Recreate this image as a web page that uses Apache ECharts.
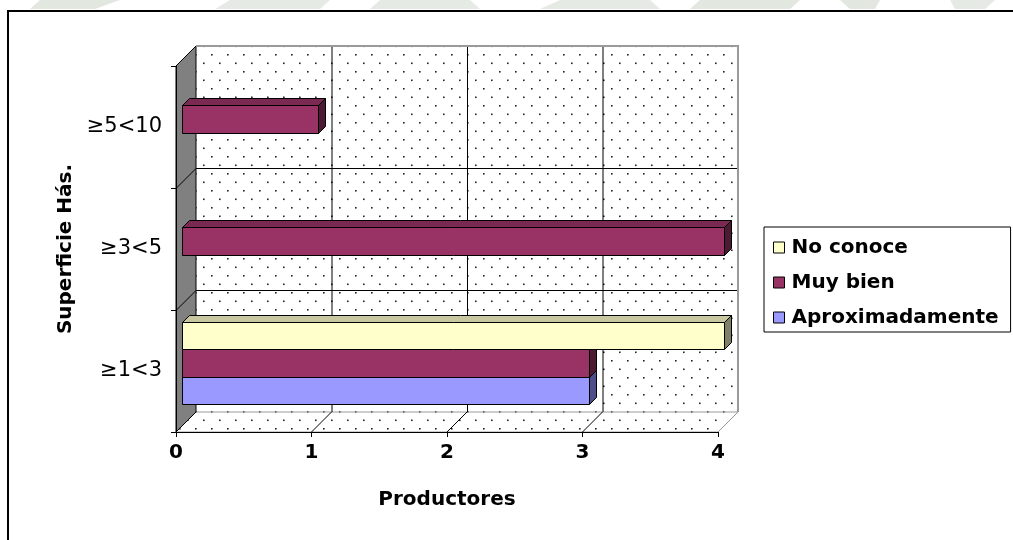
<!DOCTYPE html>
<html>
<head>
<meta charset="utf-8">
<script src="https://cdn.jsdelivr.net/npm/echarts@6/dist/echarts.min.js"></script>
<style>
  html, body { margin: 0; padding: 0; background: #fff; }
  #chart { width: 1013px; height: 540px; }
</style>
</head>
<body>
<div id="chart"></div>
<script>
// Category axis (bottom to top) and series values
const categories = ['≥1<3', '≥3<5', '≥5<10'];
const aproximadamente = [3, null, null];
const muyBien = [3, 4, 1];
const noConoce = [4, null, null];
const xTicks = [0, 1, 2, 3, 4];
const legendOrder = ['No conoce', 'Muy bien', 'Aproximadamente'];

const FONT = '"DejaVu Sans", Verdana, sans-serif';

// Oblique 3D look: walls recede up/right by DEPTH px
const DEPTH = 20;
const BAR_NEAR_X = 6;     // bar front face offset from the front plane
const BAR_SHIFT_Y = 8;
const BAR_DEPTH = 7;      // thickness of each bar
const SLOT_RATIO = 0.223; // bar height as a share of the category band

const palettes = {
  'Aproximadamente': { front: '#9999ff', top: '#7a7acc', side: '#4d4d88' },
  'Muy bien':        { front: '#993366', top: '#7a2952', side: '#4d1a33' },
  'No conoce':       { front: '#ffffcc', top: '#c8c8a0', side: '#808066' }
};

// Dotted fill used on the back wall and floor
function dotPattern() {
  const c = document.createElement('canvas');
  c.width = 16; c.height = 17;
  const g = c.getContext('2d');
  g.fillStyle = '#ffffff';
  g.fillRect(0, 0, 16, 17);
  g.fillStyle = '#222222';
  g.fillRect(3, 3, 1.6, 1.6);
  g.fillRect(11, 11.5, 1.6, 1.6);
  return c;
}
const dots = { image: dotPattern(), repeat: 'repeat' };

function toData(values) {
  const out = [];
  values.forEach((v, i) => { if (v != null) out.push([v, i]); });
  return out;
}

// Back wall, side wall, floor and their gridlines
function renderWalls(params, api) {
  const cs = params.coordSys;
  const L = cs.x, T = cs.y, R = cs.x + cs.width, B = cs.y + cs.height;
  const D = DEPTH;
  const band = api.size([0, 1])[1];
  const kids = [];
  kids.push({ type: 'rect', shape: { x: L + D, y: T - D, width: R - L, height: B - T },
              style: { fill: dots, stroke: null } });
  kids.push({ type: 'polygon', shape: { points: [[L, B], [R, B], [R + D, B - D], [L + D, B - D]] },
              style: { fill: dots, stroke: '#9a9a9a', lineWidth: 1 } });
  kids.push({ type: 'polygon', shape: { points: [[L, T], [L + D, T - D], [L + D, B - D], [L, B]] },
              style: { fill: '#808080', stroke: '#000', lineWidth: 1 } });
  // vertical gridlines on the back wall and slanted ones on the floor
  xTicks.forEach(v => {
    const x = api.coord([v, 0])[0];
    if (v > xTicks[0] && v < xTicks[xTicks.length - 1]) {
      kids.push({ type: 'line', shape: { x1: x + D + 0.5, y1: T - D, x2: x + D + 0.5, y2: B - D },
                  style: { stroke: '#000', lineWidth: 1 } });
      kids.push({ type: 'line', shape: { x1: x, y1: B, x2: x + D, y2: B - D },
                  style: { stroke: '#000', lineWidth: 1 } });
    }
  });
  // category boundaries across the back wall and side wall
  for (let c = 0; c < categories.length - 1; c++) {
    const y = Math.round(api.coord([0, c])[1] - band / 2) + 0.5;
    kids.push({ type: 'line', shape: { x1: L + D, y1: y - D, x2: R + D, y2: y - D },
                style: { stroke: '#000', lineWidth: 1 } });
    kids.push({ type: 'line', shape: { x1: L, y1: y, x2: L + D, y2: y - D },
                style: { stroke: '#000', lineWidth: 1 } });
  }
  // back wall outer edges
  kids.push({ type: 'polyline', shape: { points: [[L + D, T - D], [R + D, T - D], [R + D, B - D]] },
              style: { stroke: '#9a9a9a', lineWidth: 2, fill: null } });
  return { type: 'group', children: kids };
}

function barRenderer(slot, pal) {
  return function (params, api) {
    const v = api.value(0);
    const c = api.value(1);
    const p0 = api.coord([0, c]);
    const p1 = api.coord([v, c]);
    const h = api.size([0, 1])[1] * SLOT_RATIO;
    const cy = p0[1] + (1 - slot) * h - BAR_SHIFT_Y;
    const x0 = Math.round(p0[0] + BAR_NEAR_X) + 0.5;
    const x1 = Math.round(p1[0] + BAR_NEAR_X) + 0.5;
    const y0 = Math.round(cy - h / 2) + 0.5;
    const y1 = Math.round(cy + h / 2) + 0.5;
    const d = BAR_DEPTH;
    return {
      type: 'group',
      children: [
        { type: 'polygon', shape: { points: [[x0, y0], [x1, y0], [x1 + d, y0 - d], [x0 + d, y0 - d]] },
          style: { fill: pal.top, stroke: '#000', lineWidth: 1 } },
        { type: 'polygon', shape: { points: [[x1, y0], [x1 + d, y0 - d], [x1 + d, y1 - d], [x1, y1]] },
          style: { fill: pal.side, stroke: '#000', lineWidth: 1 } },
        { type: 'rect', shape: { x: x0, y: y0, width: x1 - x0, height: y1 - y0 },
          style: { fill: pal.front, stroke: '#000', lineWidth: 1 } }
      ]
    };
  };
}

function barSeries(name, values, slot) {
  const pal = palettes[name];
  return {
    name: name, type: 'custom', z: 3,
    coordinateSystem: 'cartesian2d',
    itemStyle: { color: pal.front },
    encode: { x: 0, y: 1 },
    data: toData(values),
    renderItem: barRenderer(slot, pal),
    silent: true
  };
}

const chart = echarts.init(document.getElementById('chart'), null, { renderer: 'canvas' });

chart.setOption({
  animation: false,
  backgroundColor: '#ffffff',
  graphic: [
    // faint banner shapes above the frame
    { type: 'polygon', z: -10, shape: { points: [[40, 0], [120, 0], [95, 9], [30, 9]] }, style: { fill: '#e2e7df' } },
    { type: 'polygon', z: -10, shape: { points: [[230, 0], [330, 0], [320, 9], [215, 9]] }, style: { fill: '#e6eae4' } },
    { type: 'polygon', z: -10, shape: { points: [[380, 0], [470, 0], [480, 9], [370, 9]] }, style: { fill: '#e6eae4' } },
    { type: 'polygon', z: -10, shape: { points: [[560, 0], [650, 0], [660, 9], [540, 9]] }, style: { fill: '#e6eae4' } },
    { type: 'polygon', z: -10, shape: { points: [[700, 0], [800, 0], [790, 9], [690, 9]] }, style: { fill: '#e2e7df' } },
    { type: 'polygon', z: -10, shape: { points: [[840, 0], [880, 0], [875, 9], [850, 9]] }, style: { fill: '#e2e7df' } },
    { type: 'polygon', z: -10, shape: { points: [[950, 0], [995, 0], [985, 9], [955, 9]] }, style: { fill: '#e6eae4' } },
    // chart frame
    { type: 'rect', z: 20, shape: { x: 8, y: 11, width: 1100, height: 600 },
      style: { fill: null, stroke: '#000', lineWidth: 2 } }
  ],
  grid: { left: 176, top: 66, width: 542, height: 366, containLabel: false },
  xAxis: {
    type: 'value', min: 0, max: 4, interval: 1, z: 5,
    name: 'Productores', nameLocation: 'middle', nameGap: 58,
    nameTextStyle: { fontFamily: FONT, fontWeight: 'bold', fontSize: 20, color: '#000' },
    axisLine: { show: true, lineStyle: { color: '#000', width: 1 } },
    axisTick: { show: true, length: 5, lineStyle: { color: '#000' } },
    axisLabel: { fontFamily: FONT, fontWeight: 'bold', fontSize: 20, color: '#000', margin: 11 },
    splitLine: { show: false }
  },
  yAxis: {
    type: 'category', data: categories, z: 5,
    name: 'Superficie Hás.', nameLocation: 'middle', nameGap: 98,
    nameTextStyle: { fontFamily: FONT, fontWeight: 'bold', fontSize: 20, color: '#000' },
    axisLine: { show: true, lineStyle: { color: '#000', width: 1 } },
    axisTick: { show: true, length: 5, lineStyle: { color: '#000' } },
    axisLabel: { fontFamily: FONT, fontSize: 21, color: '#000', margin: 14 },
    splitLine: { show: false }
  },
  legend: {
    data: legendOrder, orient: 'vertical', left: 764, top: 227,
    padding: [9, 12, 3, 9], itemGap: 12, itemWidth: 11, itemHeight: 11, icon: 'rect',
    backgroundColor: '#fff', borderColor: '#000', borderWidth: 1, borderRadius: 0,
    itemStyle: { borderColor: '#000', borderWidth: 1 },
    textStyle: { fontFamily: FONT, fontWeight: 'bold', fontSize: 20, color: '#000',
                 lineHeight: 23, padding: [0, 0, 0, 2] },
    selectedMode: false
  },
  series: [
    { name: 'walls', type: 'custom', z: 1, coordinateSystem: 'cartesian2d',
      encode: { x: 0, y: 1 }, data: [[0, 0]], renderItem: renderWalls, silent: true },
    barSeries('Aproximadamente', aproximadamente, 0),
    barSeries('Muy bien', muyBien, 1),
    barSeries('No conoce', noConoce, 2)
  ]
});
</script>
</body>
</html>
